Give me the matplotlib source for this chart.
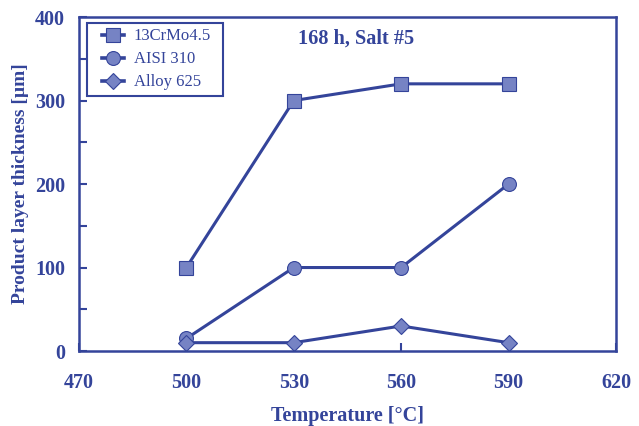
import matplotlib
matplotlib.use("Agg")
import matplotlib.pyplot as plt
from matplotlib.ticker import MultipleLocator
from matplotlib.patches import Rectangle

temperature = [500, 530, 560, 590]
cr_mo = [100, 300, 320, 320]
aisi310 = [15, 100, 100, 200]
alloy625 = [10, 10, 30, 10]
series_names = ["13CrMo4.5", "AISI 310", "Alloy 625"]
x_ticks = [470, 500, 530, 560, 590, 620]
y_ticks = [0, 100, 200, 300, 400]

line_c = "#34449a"
fill_c = "#7683c4"
plt.rcParams['font.family'] = ['Liberation Serif', 'DejaVu Serif']

fig = plt.figure(figsize=(6.39, 4.26), dpi=100)
ax = fig.add_axes([0.1236, 0.176, 0.964 - 0.1236, 0.960 - 0.176])

kw = dict(color=line_c, lw=2.2, markerfacecolor=fill_c, markeredgecolor=line_c, markeredgewidth=0.8)
ax.plot(temperature, cr_mo, marker='s', markersize=9.5, label=series_names[0], **kw)
ax.plot(temperature, aisi310, marker='o', markersize=10, label=series_names[1], **kw)
ax.plot(temperature, alloy625, marker='D', markersize=8, label=series_names[2], **kw)

ax.set_xlim(470, 620)
ax.set_ylim(0, 400)
ax.set_xticks(x_ticks)
ax.set_yticks(y_ticks)
ax.yaxis.set_minor_locator(MultipleLocator(50))
for s in ax.spines.values():
    s.set_color(line_c)
    s.set_linewidth(1.8)
ax.tick_params(which='both', direction='in', color=line_c, width=1.5, labelcolor=line_c,
               labelsize=14.5)
ax.tick_params(which='major', length=6)
ax.tick_params(which='minor', length=6)
ax.tick_params(axis='x', pad=16)
ax.tick_params(axis='y', pad=10)
for lab in ax.get_xticklabels() + ax.get_yticklabels():
    lab.set_fontweight('bold')

ax.set_xlabel("Temperature [°C]", fontsize=14.5, fontweight='bold', color=line_c, labelpad=9.5)
ax.set_ylabel("Product layer thickness [µm]", fontsize=14, fontweight='bold', color=line_c, labelpad=4)
ax.text(0.408, 0.934, "168 h, Salt #5", transform=ax.transAxes, fontsize=14.6, fontweight='bold',
        color=line_c, ha='left', va='center')

leg = ax.legend(loc='upper left', bbox_to_anchor=(0.0428, 0.966), fontsize=12, frameon=False,
                handlelength=1.3, borderpad=0, borderaxespad=0,
                labelspacing=0.42, handletextpad=0.6)
for t in leg.get_texts():
    t.set_color(line_c)
for h in leg.legend_handles:
    h.set_linewidth(2.6)
ax.add_patch(Rectangle((0.0149, 0.7635), 0.2676 - 0.0149, 0.983 - 0.7635, transform=ax.transAxes,
                       fill=False, edgecolor=line_c, linewidth=1.5, zorder=5))

fig.savefig("out.png", dpi=100)
